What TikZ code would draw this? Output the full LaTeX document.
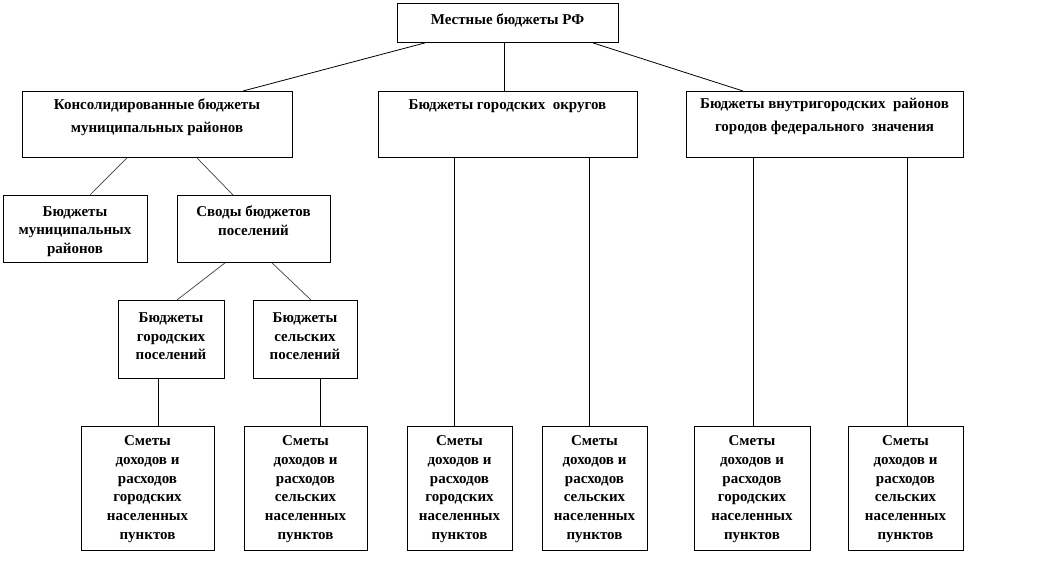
\documentclass[tikz,border=0pt]{standalone}
\usepackage{fontspec}
\setmainfont{Liberation Serif}
\begin{document}
\begin{tikzpicture}[x=1pt,y=-1pt,
 box/.style={draw, line width=0.9pt, inner sep=0pt, anchor=north west},
 txt/.style={font=\bfseries\fontsize{15}{18.7}\selectfont, align=center, inner sep=0pt, anchor=north},
 wide/.style={font=\bfseries\fontsize{15}{23}\selectfont},
 link/.style={line width=0.8pt},
 slink/.style={line width=0.7pt, black!75}]
\useasboundingbox[fill=white] (0,0) rectangle (1037,584);
% boxes
\node[box, minimum width=221pt, minimum height=39pt] (top) at (397,3) {};
\node[box, minimum width=270pt, minimum height=66pt] (kons) at (22,91) {};
\node[box, minimum width=259pt, minimum height=66pt] (okr) at (378,91) {};
\node[box, minimum width=277pt, minimum height=66pt] (vnut) at (686,91) {};
\node[box, minimum width=144pt, minimum height=67pt] (mun) at (3,195) {};
\node[box, minimum width=153pt, minimum height=67pt] (svod) at (177,195) {};
\node[box, minimum width=106pt, minimum height=78pt] (gpos) at (118,300) {};
\node[box, minimum width=104pt, minimum height=78pt] (spos) at (253,300) {};
\node[box, minimum width=133pt, minimum height=124pt] (s1) at (81,426) {};
\node[box, minimum width=123pt, minimum height=124pt] (s2) at (244,426) {};
\node[box, minimum width=105pt, minimum height=124pt] (s3) at (407,426) {};
\node[box, minimum width=105pt, minimum height=124pt] (s4) at (542,426) {};
\node[box, minimum width=116pt, minimum height=124pt] (s5) at (694,426) {};
\node[box, minimum width=115pt, minimum height=124pt] (s6) at (848,426) {};
% texts
\node[txt] (top-t) at (507.5,14) {Местные бюджеты РФ};
\node[txt, wide] (kons-t) at (157,99) {Консолидированные бюджеты\\муниципальных районов};
\node[txt] (okr-t) at (507.5,99) {Бюджеты городских\ \ округов};
\node[txt, wide] (vnut-t) at (824.5,98) {Бюджеты внутригородских\ \ районов\\городов федерального\ \ значения};
\node[txt] (mun-t) at (75,206) {Бюджеты\\муниципальных\\районов};
\node[txt] (svod-t) at (253.5,206) {Своды бюджетов\\поселений};
\node[txt] (gpos-t) at (171,312.5) {Бюджеты\\городских\\поселений};
\node[txt] (spos-t) at (305,312.5) {Бюджеты\\сельских\\поселений};
\node[txt] (s1-t) at (147.5,435.5) {Сметы\\доходов и\\расходов\\городских\\населенных\\пунктов};
\node[txt] (s2-t) at (305.5,435.5) {Сметы\\доходов и\\расходов\\сельских\\населенных\\пунктов};
\node[txt] (s3-t) at (459.5,435.5) {Сметы\\доходов и\\расходов\\городских\\населенных\\пунктов};
\node[txt] (s4-t) at (594.5,435.5) {Сметы\\доходов и\\расходов\\сельских\\населенных\\пунктов};
\node[txt] (s5-t) at (752,435.5) {Сметы\\доходов и\\расходов\\городских\\населенных\\пунктов};
\node[txt] (s6-t) at (905.5,435.5) {Сметы\\доходов и\\расходов\\сельских\\населенных\\пунктов};
% connectors from top
\draw[link] ([xshift=28pt]top.south west) -- ([xshift=221pt]kons.north west);
\draw[link] ([xshift=-4pt]top.south) -- ([xshift=-4pt]okr.north);
\draw[link] ([xshift=-26pt]top.south east) -- ([xshift=57pt]vnut.north west);
% second level
\draw[slink] ([xshift=105pt]kons.south west) -- ([xshift=87pt]mun.north west);
\draw[slink] ([xshift=175pt]kons.south west) -- ([xshift=56pt]svod.north west);
\draw[slink] ([xshift=48pt]svod.south west) -- ([xshift=59pt]gpos.north west);
\draw[slink] ([xshift=95pt]svod.south west) -- ([xshift=58pt]spos.north west);
% verticals
\coordinate (g1) at ([xshift=40pt]gpos.south west);
\coordinate (g2) at ([xshift=67pt]spos.south west);
\coordinate (o1) at ([xshift=76pt]okr.south west);
\coordinate (o2) at ([xshift=211pt]okr.south west);
\coordinate (v1) at ([xshift=67pt]vnut.south west);
\coordinate (v2) at ([xshift=221pt]vnut.south west);
\draw[link] (g1) -- (g1 |- s1.north);
\draw[link] (g2) -- (g2 |- s2.north);
\draw[link] (o1) -- (o1 |- s3.north);
\draw[link] (o2) -- (o2 |- s4.north);
\draw[link] (v1) -- (v1 |- s5.north);
\draw[link] (v2) -- (v2 |- s6.north);
\end{tikzpicture}
\end{document}
